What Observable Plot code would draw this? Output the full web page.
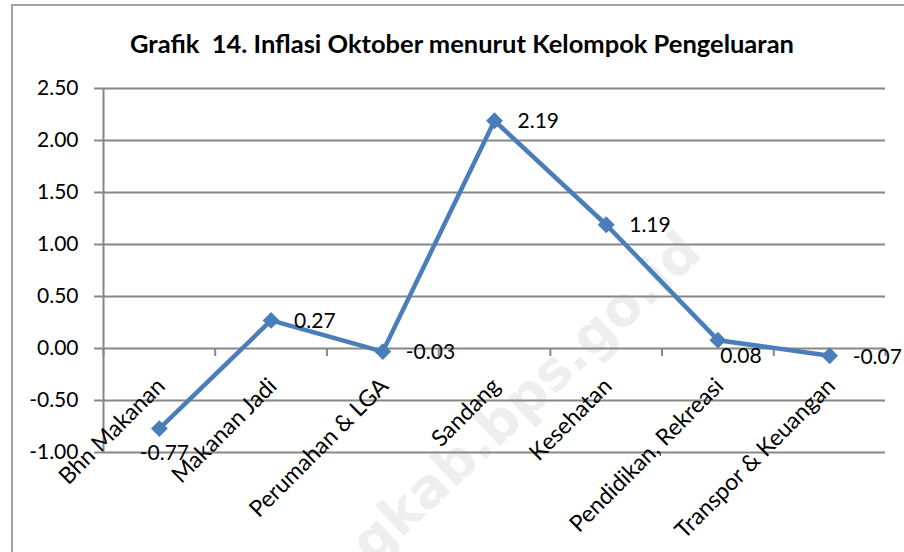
<!DOCTYPE html>
<html>
<head>
<meta charset="utf-8">
<script src="https://cdn.jsdelivr.net/npm/d3@7"></script>
<script src="https://cdn.jsdelivr.net/npm/@observablehq/plot@0.6"></script>
<style>
  html, body { margin: 0; padding: 0; background: #fff; }
  #wrap { position: relative; width: 904px; height: 552px; overflow: hidden; font-family: Lato, sans-serif; }
  #wm { position: absolute; left: 0; top: 0; }
  #frame { position: absolute; left: 11px; top: 4px; right: -4px; bottom: -4px;
           border-top: 2px solid #a3a3a3; border-left: 2px solid #a3a3a3; }
  #title { position: absolute; left: 20px; right: 0; top: 29px; line-height: 28px; text-align: center;
           font-weight: bold; font-size: 25.5px; white-space: pre; color: #000; }
  #chart { position: absolute; left: 0; top: 60px; }
</style>
</head>
<body>
<div id="wrap">
  <svg id="wm" width="904" height="552"><text x="372" y="565" transform="rotate(-43 372 565)"
    font-family="DejaVu Sans" font-weight="bold" font-size="54" fill="#eeeeee">gkab.bps.go.id</text></svg>
  <div id="frame"></div>
  <div id="title">Grafik  14. Inflasi Oktober menurut Kelompok Pengeluaran</div>
  <div id="chart"></div>
</div>
<script>
const categories = ["Bhn Makanan", "Makanan Jadi", "Perumahan & LGA", "Sandang", "Kesehatan", "Pendidikan, Rekreasi", "Transpor & Keuangan"];
const values = [-0.77, 0.27, -0.03, 2.19, 1.19, 0.08, -0.07];
const yTicks = [-1, -0.5, 0, 0.5, 1, 1.5, 2, 2.5];
const labelSide = ["below", "right", "right", "right", "right", "below", "right"];

const n = categories.length;
const rows = categories.map((c, i) => ({i, c, v: values[i]}));
const xDomain = [-0.5, n - 0.5];
const boundaries = d3.range(n + 1).map(k => k - 0.5);
const gray = "#878787";
const blue = "#4a7ebb";
const fmt = d => d.toFixed(2);
const belowOffsets = {0: [5, 25], 5: [23, 16]};

const belowMarks = rows.filter(d => labelSide[d.i] === "below").map(d =>
  Plot.text([d], {x: "i", y: "v", text: r => fmt(r.v), textAnchor: "middle",
    dx: belowOffsets[d.i][0], dy: belowOffsets[d.i][1], fill: "#000"}));

const plot = Plot.plot({
  width: 904, height: 492,
  marginTop: 28, marginBottom: 100, marginLeft: 103, marginRight: 19,
  style: {background: "transparent", fontFamily: "Lato, sans-serif", fontSize: "21px", color: "#000", overflow: "visible"},
  x: {type: "linear", domain: xDomain, axis: null},
  y: {domain: [-1, 2.5], axis: null},
  marks: [
    Plot.gridY(yTicks, {stroke: gray, strokeOpacity: 1, strokeWidth: 2}),
    Plot.ruleX([xDomain[0]], {stroke: gray, strokeWidth: 2}),
    Plot.ruleX(boundaries, {x: d => d, y1: () => 0, y2: () => 0, insetBottom: -8, stroke: gray, strokeWidth: 2}),
    Plot.axisY(yTicks, {tickSize: 9, tickPadding: 16, tickFormat: fmt, label: null, stroke: gray, strokeWidth: 2, fill: "#000"}),
    Plot.text(rows, {x: "i", y: () => 0, text: "c", rotate: -45, textAnchor: "end", lineAnchor: "bottom", fontSize: 23, dx: 7, dy: 39, fill: "#000"}),
    Plot.line(rows, {x: "i", y: "v", stroke: blue, strokeWidth: 4.5}),
    Plot.dot(rows, {x: "i", y: "v", symbol: "diamond2", r: 7.6, fill: blue, stroke: "none"}),
    Plot.text(rows.filter(d => labelSide[d.i] === "right"), {x: "i", y: "v", text: r => fmt(r.v), textAnchor: "start", dx: 23, dy: 1, fill: "#000"}),
    ...belowMarks
  ]
});
document.getElementById("chart").appendChild(plot);
</script>
</body>
</html>
